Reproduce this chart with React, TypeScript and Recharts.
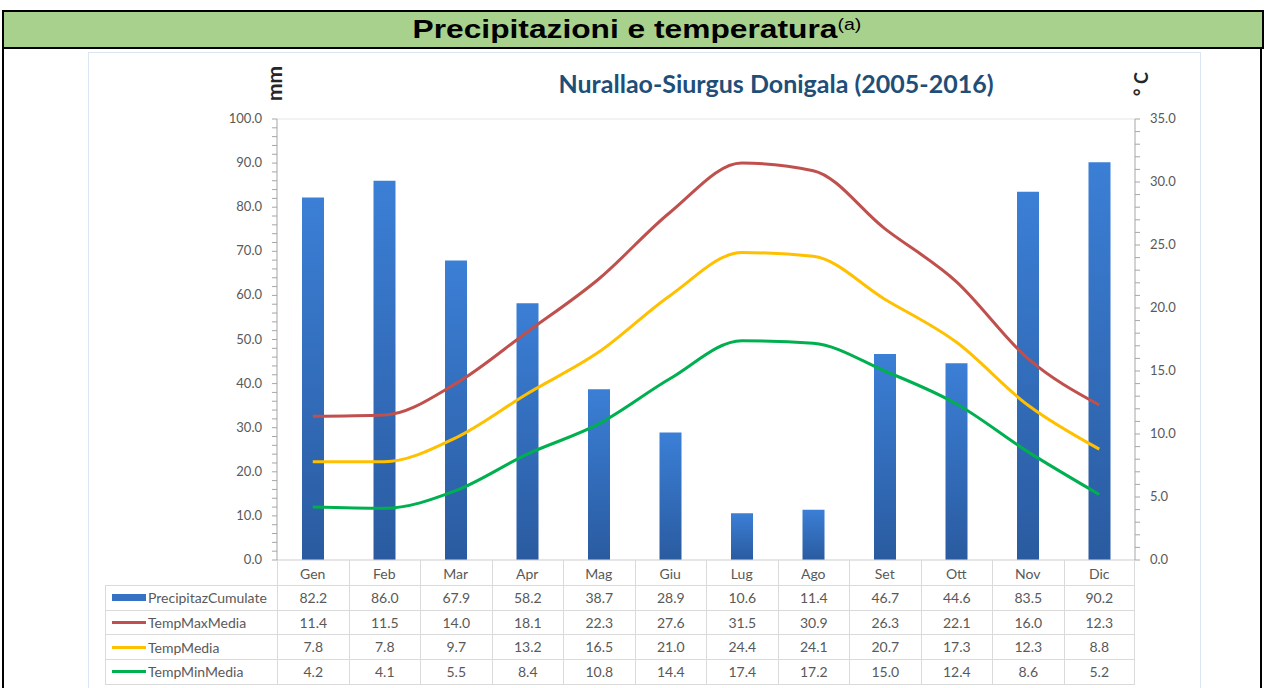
import React from "react";
import {
  ComposedChart,
  Bar,
  Line,
  XAxis,
  YAxis,
  CartesianGrid,
} from "recharts";

// Monthly climate data, Nurallao-Siurgus Donigala (2005-2016)
const months = ["Gen", "Feb", "Mar", "Apr", "Mag", "Giu", "Lug", "Ago", "Set", "Ott", "Nov", "Dic"];
const precipitazCumulate = [82.2, 86.0, 67.9, 58.2, 38.7, 28.9, 10.6, 11.4, 46.7, 44.6, 83.5, 90.2];
const tempMaxMedia = [11.4, 11.5, 14.0, 18.1, 22.3, 27.6, 31.5, 30.9, 26.3, 22.1, 16.0, 12.3];
const tempMedia = [7.8, 7.8, 9.7, 13.2, 16.5, 21.0, 24.4, 24.1, 20.7, 17.3, 12.3, 8.8];
const tempMinMedia = [4.2, 4.1, 5.5, 8.4, 10.8, 14.4, 17.4, 17.2, 15.0, 12.4, 8.6, 5.2];

const mmTicks = [0, 2, 4, 6, 8, 10, 12, 14, 16, 18, 20, 22, 24, 26, 28, 30, 32, 34, 36, 38, 40, 42, 44, 46, 48, 50, 52, 54, 56, 58, 60, 62, 64, 66, 68, 70, 72, 74, 76, 78, 80, 82, 84, 86, 88, 90, 92, 94, 96, 98, 100];
const mmGridTicks = [0, 10, 20, 30, 40, 50, 60, 70, 80, 90, 100];
const degTicks = [0, 1, 2, 3, 4, 5, 6, 7, 8, 9, 10, 11, 12, 13, 14, 15, 16, 17, 18, 19, 20, 21, 22, 23, 24, 25, 26, 27, 28, 29, 30, 31, 32, 33, 34, 35];

const data = months.map((m, i) => ({
  month: m,
  precip: precipitazCumulate[i],
  tmax: tempMaxMedia[i],
  tmed: tempMedia[i],
  tmin: tempMinMedia[i],
}));

const BLUE = "#3572c4";
const RED = "#c0504d";
const YELLOW = "#ffc000";
const GREEN = "#00b050";
const TEXT = "#595959";
const FONT = "Lato, 'Open Sans', sans-serif";

const tableRows = [
  { name: "PrecipitazCumulate", color: BLUE, bar: true, values: precipitazCumulate },
  { name: "TempMaxMedia", color: RED, bar: false, values: tempMaxMedia },
  { name: "TempMedia", color: YELLOW, bar: false, values: tempMedia },
  { name: "TempMinMedia", color: GREEN, bar: false, values: tempMinMedia },
];

// tick that only labels every `step` units; minor ticks get just the tick line
const makeTick = (step: number, anchor: "start" | "end") => (props: any) => {
  const { x, y, payload } = props;
  if (Math.round(payload.value) % step !== 0) return <g />;
  return (
    <text x={x} y={y} dy={4} textAnchor={anchor} fill={TEXT} fontSize={13} fontFamily={FONT}>
      {Number(payload.value).toFixed(1)}
    </text>
  );
};

function DataTable() {
  const colW = 858 / months.length;
  const rowH = 24.75;
  const legendW = 172;
  const line = "1px solid #dadada";
  return (
    <div style={{ position: "absolute", left: 105, top: 560, fontFamily: FONT, fontSize: 14, color: TEXT }}>
      {/* header row: only the column separators, labels come from the XAxis */}
      <div style={{ display: "flex", height: rowH }}>
        <div style={{ width: legendW }} />
        {months.map((m, i) => (
          <div key={m} style={{ width: colW, boxSizing: "border-box", borderLeft: line, borderRight: i === months.length - 1 ? line : undefined }} />
        ))}
      </div>
      {tableRows.map((r) => (
        <div key={r.name} style={{ display: "flex", height: rowH, borderTop: line, boxSizing: "border-box" }}>
          <div style={{ width: legendW, boxSizing: "border-box", borderLeft: line, display: "flex", alignItems: "center", whiteSpace: "nowrap" }}>
            <div style={{ width: 34, height: r.bar ? 7 : 3, background: r.color, marginLeft: 6 }} />
            <span style={{ marginLeft: 2 }}>{r.name}</span>
          </div>
          {r.values.map((v, i) => (
            <div
              key={i}
              style={{
                width: colW,
                boxSizing: "border-box",
                borderLeft: line,
                borderRight: i === r.values.length - 1 ? line : undefined,
                textAlign: "center",
                lineHeight: `${rowH}px`,
              }}
            >
              {v.toFixed(1)}
            </div>
          ))}
        </div>
      ))}
      <div style={{ width: legendW + 858, borderTop: line }} />
    </div>
  );
}

export default function App() {
  return (
    <div style={{ position: "absolute", left: 0, top: 0, width: 1264, height: 688, background: "#fff", overflow: "hidden" }}>
      {/* green header band */}
      <div
        style={{
          position: "absolute",
          left: 2,
          top: 10,
          width: 1258,
          height: 35,
          background: "#a9d18e",
          borderTop: "2px solid #000",
          borderBottom: "2px solid #000",
          borderLeft: "2px solid #000",
          borderRight: "2px solid #000",
          display: "flex",
          alignItems: "center",
          justifyContent: "center",
          fontFamily: "'Liberation Sans', Arial, sans-serif",
          color: "#000",
        }}
      >
        <div style={{ transform: "scaleX(1.22)", whiteSpace: "nowrap", marginLeft: 8 }}>
          <span style={{ fontWeight: "bold", fontSize: 26 }}>Precipitazioni e temperatura</span>
          <span style={{ fontSize: 16, position: "relative", top: -8 }}>(a)</span>
        </div>
      </div>
      {/* frame lines below header */}
      <div style={{ position: "absolute", left: 2, top: 47, width: 2, height: 641, background: "#000" }} />
      <div style={{ position: "absolute", left: 1260, top: 47, width: 2, height: 641, background: "#000" }} />
      {/* picture border */}
      <div style={{ position: "absolute", left: 88, top: 52, width: 1113, height: 640, border: "1px solid #dce6f2", boxSizing: "border-box" }} />

      <div style={{ position: "absolute", left: 88, top: 52 }}>
        <ComposedChart
          width={1112}
          height={636}
          data={data}
          margin={{ top: 67, right: 15, left: 129, bottom: 98 }}
        >
          <defs>
            <linearGradient id="barFill" x1="0" y1="0" x2="0" y2="1">
              <stop offset="0%" stopColor="#3b7fd6" />
              <stop offset="100%" stopColor="#2a5ba0" />
            </linearGradient>
          </defs>
          <CartesianGrid yAxisId="grid" vertical={false} stroke="#e6e6e6" />
          <XAxis
            dataKey="month"
            height={30}
            tickLine={false}
            axisLine={{ stroke: "#d9d9d9" }}
            tickMargin={3}
            tick={{ fill: TEXT, fontSize: 14, fontFamily: FONT }}
            interval={0}
          />
          <YAxis yAxisId="grid" hide width={0} domain={[0, 100]} ticks={mmGridTicks} interval={0} />
          <YAxis
            yAxisId="mm"
            width={60}
            domain={[0, 100]}
            ticks={mmTicks}
            interval={0}
            tickSize={5}
            tickMargin={10}
            axisLine={{ stroke: "#a6a6a6" }}
            tickLine={{ stroke: "#a6a6a6" }}
            tick={makeTick(10, "end")}
          />
          <YAxis
            yAxisId="deg"
            orientation="right"
            width={50}
            domain={[0, 35]}
            ticks={degTicks}
            interval={0}
            tickSize={5}
            tickMargin={10}
            axisLine={{ stroke: "#a6a6a6" }}
            tickLine={{ stroke: "#a6a6a6" }}
            tick={makeTick(5, "start")}
          />
          <Bar yAxisId="mm" dataKey="precip" barSize={22} fill="url(#barFill)" isAnimationActive={false} />
          <Line yAxisId="deg" type="monotone" dataKey="tmax" stroke={RED} strokeWidth={3} dot={false} activeDot={false} isAnimationActive={false} />
          <Line yAxisId="deg" type="monotone" dataKey="tmed" stroke={YELLOW} strokeWidth={3} dot={false} activeDot={false} isAnimationActive={false} />
          <Line yAxisId="deg" type="monotone" dataKey="tmin" stroke={GREEN} strokeWidth={3} dot={false} activeDot={false} isAnimationActive={false} />
        </ComposedChart>
      </div>

      {/* chart title and axis unit labels */}
      <div style={{ position: "absolute", left: 476, top: 68, width: 600, textAlign: "center", fontFamily: FONT, fontWeight: "bold", fontSize: 25, color: "#1f4e79" }}>
        Nurallao-Siurgus Donigala (2005-2016)
      </div>
      <div style={{ position: "absolute", left: 253, top: 71, width: 40, textAlign: "center", transform: "rotate(-90deg)", fontFamily: FONT, fontWeight: "bold", fontSize: 21, color: "#262626" }}>
        mm
      </div>
      <div style={{ position: "absolute", left: 1121, top: 73, width: 40, textAlign: "center", transform: "rotate(-90deg)", fontFamily: FONT, fontWeight: "bold", fontSize: 18, color: "#262626" }}>
        ° C
      </div>

      <DataTable />
    </div>
  );
}
